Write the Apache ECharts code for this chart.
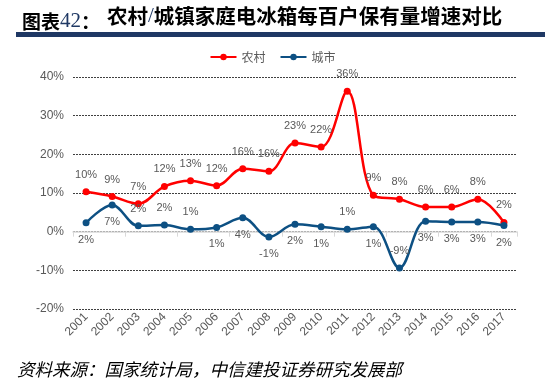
<!DOCTYPE html>
<html><head><meta charset="utf-8">
<script src="https://cdn.jsdelivr.net/npm/echarts@6/dist/echarts.min.js"></script>
<style>html,body{margin:0;padding:0;background:#fff}#c{width:545px;height:390px}</style>
</head><body><div id="c"></div>
<script>
var years = ['2001','2002','2003','2004','2005','2006','2007','2008','2009','2010','2011','2012','2013','2014','2015','2016','2017'];
var rural = [10.3, 9.1, 7.2, 11.7, 13.2, 11.9, 16.3, 15.6, 22.9, 21.9, 36.3, 9.4, 8.4, 6.4, 6.4, 8.4, 2.4];
var urban = [2.3, 6.9, 1.5, 1.7, 0.6, 1.1, 3.6, -1.4, 1.9, 1.3, 0.6, 1.3, -9.4, 2.7, 2.5, 2.5, 1.6];
var yTicks = [-20, -10, 0, 10, 20, 30, 40];
var seriesNames = ['农村', '城市'];
// label placement for the urban series (style only)
var urbanLabelPos = ['bottom','bottom','top','top','top','bottom','bottom','bottom','bottom','bottom','top','bottom','top','bottom','bottom','bottom','bottom'];

var chart = echarts.init(document.getElementById('c'), null, {renderer:'canvas'});
var labelColor = '#595959';
var fmt = function(p){ return Math.round(p.value) + '%'; };
chart.setOption({
  animation: false,
  title: {
    left: 17, top: 6,
    text: '{a|图表}{b|42}{a|：}',
    textStyle: {
      rich: {
        a: {fontFamily: 'Noto Sans CJK SC', fontWeight: 'bold', fontSize: 19, color: '#000'},
        b: {fontFamily: 'Liberation Serif', fontWeight: 'normal', fontSize: 21, color: '#1f3864'}
      }
    }
  },
  graphic: [
    {type: 'text', left: 107, top: 6, style: {
      rich: {
        m: {font: 'bold 20.5px "Noto Sans CJK SC"', fill: '#000'},
        s: {font: '21px "Liberation Serif"', fill: '#1f3864'}
      },
      text: '{m|农村}{s|/}{m|城镇家庭电冰箱每百户保有量增速对比}'
    }},
    {type: 'rect', shape: {x: 16, y: 32, width: 529, height: 5}, style: {fill: '#1f3864'}},
    {type: 'text', left: 17, top: 363, style: {text: '资料来源：国家统计局，中信建投证券研究发展部', font: 'italic 17.5px "Liberation Serif", "Noto Sans CJK SC"', fill: '#000'}}
  ],
  legend: {
    top: 46, left: 'center',
    itemWidth: 26, itemHeight: 8, itemGap: 14,
    textStyle: {color: labelColor, fontSize: 12, fontFamily: 'Noto Sans CJK SC'},
    data: seriesNames
  },
  grid: {left: 73, right: 28, top: 77, bottom: 81},
  xAxis: [{
    type: 'category', data: years, boundaryGap: true,
    axisLine: {show: false, onZero: false},
    axisTick: {show: false},
    axisLabel: {rotate: 45, color: labelColor, fontSize: 12, fontFamily: 'Liberation Sans', interval: 0, margin: 6}
  }, {
    type: 'category', data: years, boundaryGap: true, position: 'top',
    axisLine: {show: true, onZero: true, lineStyle: {color: '#d9d9d9', width: 1.5}},
    axisTick: {show: true, inside: true, length: 5, lineStyle: {color: '#d9d9d9'}},
    axisLabel: {show: false}
  }],
  yAxis: {
    type: 'value', min: yTicks[0], max: yTicks[yTicks.length-1], interval: 10,
    axisLine: {show: false}, axisTick: {show: false},
    axisLabel: {formatter: '{value}%', color: labelColor, fontSize: 12, fontFamily: 'Liberation Sans', margin: 9},
    splitLine: {lineStyle: {type: [2, 1], color: '#404040', width: 1}}
  },
  series: [{
    name: seriesNames[0], type: 'line', data: rural, smooth: 0.35,
    symbol: 'circle', symbolSize: 7,
    lineStyle: {color: '#ff0000', width: 2.5}, itemStyle: {color: '#ff0000'},
    label: {show: true, position: 'top', distance: 8, formatter: fmt, color: labelColor, fontSize: 11, fontFamily: 'Liberation Sans'},
    z: 3
  }, {
    name: seriesNames[1], type: 'line', data: urban.map(function(v, i){
      return {value: v, label: {position: urbanLabelPos[i]}};
    }), smooth: 0.35,
    symbol: 'circle', symbolSize: 7,
    lineStyle: {color: '#0d5083', width: 2.5}, itemStyle: {color: '#0d5083'},
    label: {show: true, distance: 8, formatter: fmt, color: labelColor, fontSize: 11, fontFamily: 'Liberation Sans'},
    z: 4
  }]
});
</script></body></html>
